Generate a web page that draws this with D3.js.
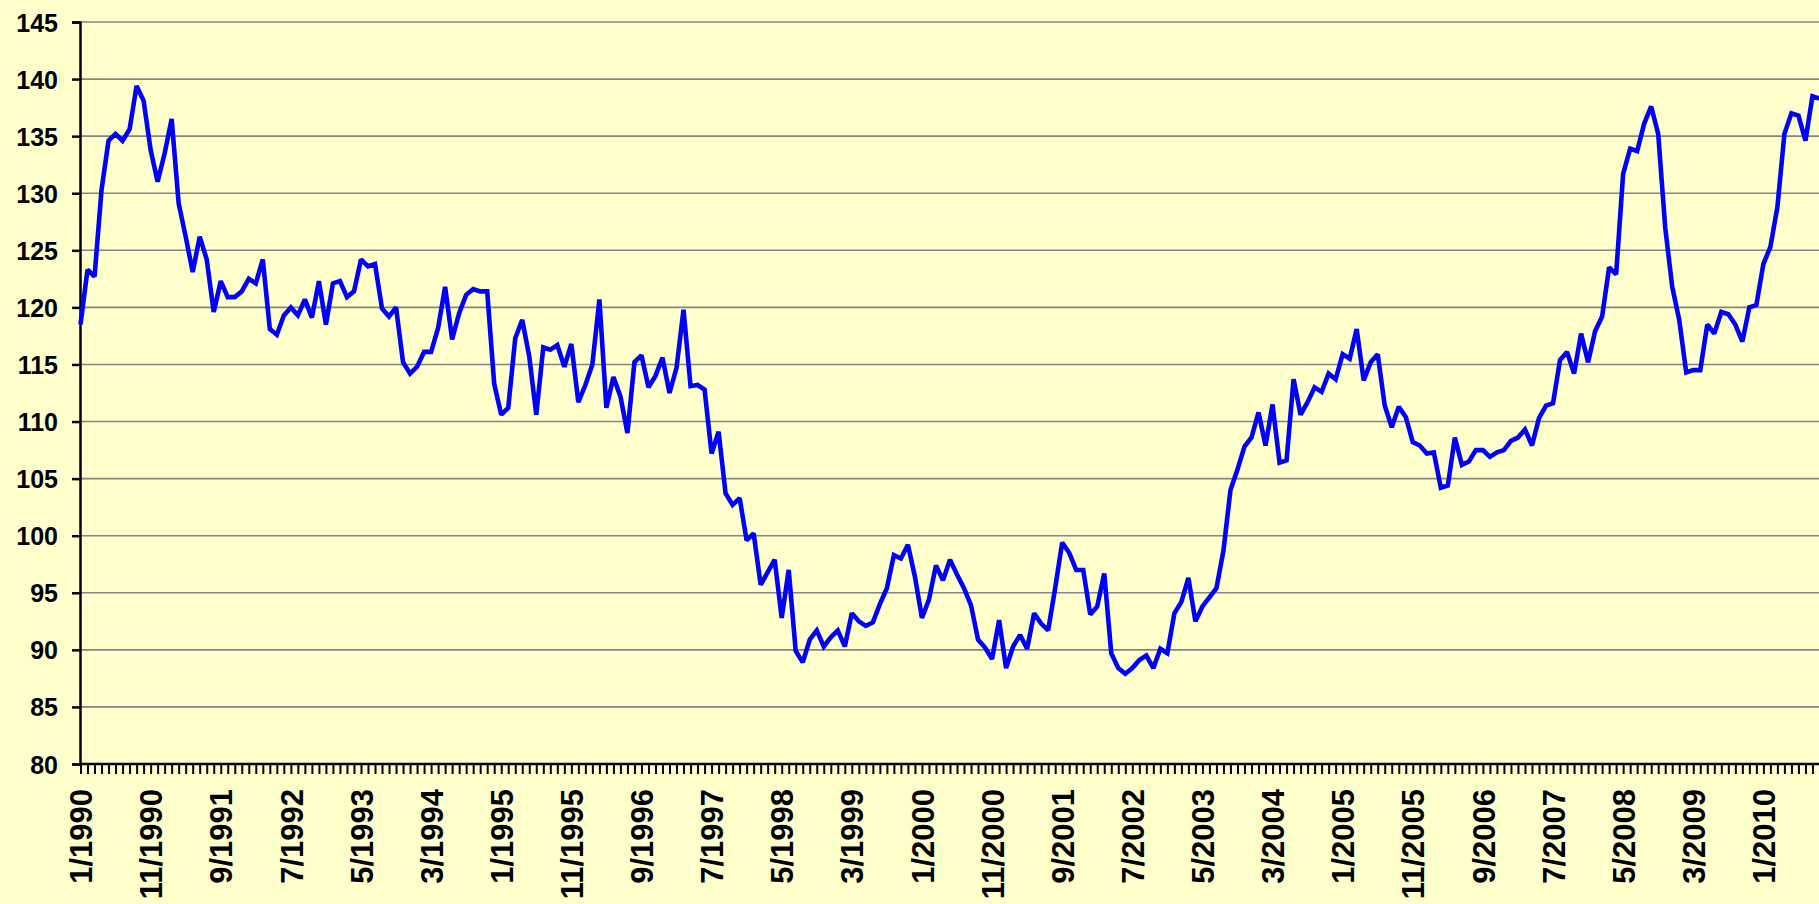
<!DOCTYPE html>
<html>
<head>
<meta charset="utf-8">
<script src="https://cdn.jsdelivr.net/npm/d3@7"></script>
<style>
  html, body { margin: 0; padding: 0; background: #FFFFCC; overflow: hidden; }
  svg { display: block; }
  text { font-family: "Liberation Sans", Arial, sans-serif; font-weight: bold; fill: #000; }
</style>
</head>
<body>
<svg id="chart" width="1819" height="904"></svg>
<script>
// ---- data ----
const startYear = 1990;
const values = [
  118.5,123.3,122.7,130.3,134.6,135.2,134.6,135.6,139.4,138.1,133.8,131.0,
  133.5,136.5,129.1,126.2,123.1,126.2,124.2,119.6,122.3,120.9,120.9,121.4,
  122.5,122.1,124.2,118.1,117.6,119.3,120.0,119.3,120.7,119.1,122.3,118.5,
  122.1,122.3,120.9,121.4,124.2,123.6,123.8,119.9,119.2,120.0,115.2,114.2,
  114.8,116.1,116.1,118.2,121.8,117.2,119.5,121.1,121.6,121.4,121.4,113.3,
  110.6,111.2,117.3,118.9,115.7,110.6,116.5,116.3,116.7,114.8,116.8,111.7,
  113.2,115.0,120.7,111.2,113.9,112.2,109.0,115.2,115.8,113.0,114.0,115.6,
  112.5,114.7,119.8,113.1,113.2,112.8,107.2,109.1,103.7,102.7,103.3,99.6,
  100.2,95.7,96.8,97.9,92.8,97.0,89.9,88.9,90.9,91.7,90.3,91.1,
  91.7,90.3,93.2,92.5,92.1,92.4,94.0,95.4,98.3,98.0,99.2,96.4,
  92.8,94.4,97.4,96.1,97.9,96.6,95.4,93.9,90.9,90.2,89.2,92.6,
  88.4,90.3,91.3,90.1,93.2,92.3,91.7,95.4,99.4,98.5,97.0,97.0,
  93.1,93.8,96.7,89.7,88.4,87.9,88.4,89.1,89.5,88.4,90.1,89.7,
  93.2,94.2,96.3,92.5,93.8,94.6,95.4,98.7,104.0,105.8,107.8,108.6,
  110.8,107.9,111.5,106.4,106.6,113.7,110.6,111.7,113.0,112.6,114.2,113.7,
  115.9,115.5,118.1,113.6,115.2,115.9,111.4,109.5,111.3,110.4,108.2,107.9,
  107.2,107.3,104.2,104.4,108.6,106.2,106.5,107.5,107.5,106.9,107.3,107.5,
  108.3,108.6,109.3,107.9,110.3,111.4,111.6,115.4,116.1,114.2,117.7,115.2,
  117.9,119.2,123.5,122.9,131.7,133.9,133.7,136.1,137.6,135.2,127.0,121.8,
  118.9,114.3,114.5,114.5,118.5,117.7,119.6,119.4,118.5,117.0,120.0,120.2,
  123.8,125.3,128.8,135.2,137.0,136.8,134.6,138.5,138.3
];
const categories = values.map((v, i) => `${(i % 12) + 1}/${startYear + Math.floor(i / 12)}`);
const tickLabels = [
  "1/1990","11/1990","9/1991","7/1992","5/1993","3/1994","1/1995","11/1995",
  "9/1996","7/1997","5/1998","3/1999","1/2000","11/2000","9/2001","7/2002",
  "5/2003","3/2004","1/2005","11/2005","9/2006","7/2007","5/2008","3/2009","1/2010"
];
const yTicks = [80,85,90,95,100,105,110,115,120,125,130,135,140,145];

// ---- layout ----
const W = 1819, H = 904;
const plotLeft = 80, plotRight = 1819, plotTop = 22, plotBottom = 764;
const step = 7.012;

const svg = d3.select("#chart");
svg.append("rect").attr("width", W).attr("height", H).attr("fill", "#FFFFCC");

const x = d3.scalePoint()
  .domain(categories)
  .range([80.5, 80.5 + (categories.length - 1) * step]);

const y = d3.scaleLinear().domain([80, 145]).range([plotBottom, plotTop]);

// gridlines
svg.append("g").selectAll("line")
  .data(yTicks.filter(t => t > 80))
  .join("line")
  .attr("x1", plotLeft).attr("x2", plotRight)
  .attr("y1", d => y(d)).attr("y2", d => y(d))
  .attr("stroke", "#858585").attr("stroke-width", 1.6);

// y axis
const yAxis = svg.append("g")
  .attr("transform", `translate(${plotLeft},0)`)
  .call(d3.axisLeft(y).tickValues(yTicks).tickSize(8).tickPadding(14));
yAxis.select(".domain").attr("stroke", "#000").attr("stroke-width", 2.5);
yAxis.selectAll(".tick line").attr("stroke", "#000").attr("stroke-width", 2.5);
yAxis.selectAll(".tick text")
  .attr("font-size", 25).attr("font-family", "Liberation Sans, Arial, sans-serif")
  .attr("font-weight", "bold").attr("fill", "#000").attr("dy", "0.36em");

// x axis
const labelSet = new Set(tickLabels);
const xAxis = svg.append("g")
  .attr("transform", `translate(0,${plotBottom})`)
  .call(d3.axisBottom(x).tickSize(10).tickFormat(d => labelSet.has(d) ? d : ""));
xAxis.select(".domain").remove();
xAxis.append("line").attr("x1", plotLeft - 1).attr("x2", plotRight)
  .attr("y1", 0).attr("y2", 0).attr("stroke", "#000").attr("stroke-width", 2.5);
xAxis.selectAll(".tick line").attr("stroke", "#000").attr("stroke-width", 2);
xAxis.selectAll(".tick text")
  .attr("font-size", 31).attr("font-family", "Liberation Sans, Arial, sans-serif")
  .attr("font-weight", "bold").attr("fill", "#000")
  .attr("text-anchor", "end")
  .attr("transform", "translate(0,25) rotate(-90)")
  .attr("x", 0).attr("y", 0).attr("dy", "0.36em");

// line
const line = d3.line()
  .x((d, i) => x(categories[i]))
  .y(d => y(d));
svg.append("path")
  .datum(values)
  .attr("d", line)
  .attr("fill", "none")
  .attr("stroke", "#0000FF")
  .attr("stroke-width", 4.6)
  .attr("stroke-linejoin", "miter")
  .attr("stroke-miterlimit", 2);
</script>
</body>
</html>
